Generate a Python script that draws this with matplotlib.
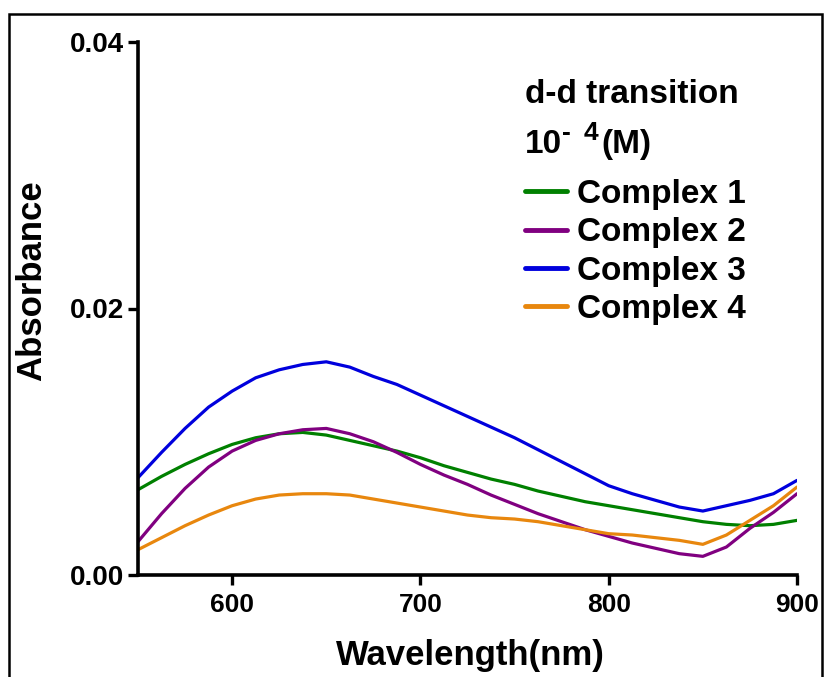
import matplotlib
matplotlib.use("Agg")
import matplotlib.pyplot as plt
from matplotlib.patches import Rectangle

plt.rcParams['font.family'] = ['Liberation Sans', 'DejaVu Sans']
plt.rcParams['font.weight'] = 'bold'

# --- data (absorbance vs wavelength) ---
wavelength = [550, 562.5, 575, 587.5, 600, 612.5, 625, 637.5, 650, 662.5, 675,
              687.5, 700, 712.5, 725, 737.5, 750, 762.5, 775, 787.5, 800,
              812.5, 825, 837.5, 850, 862.5, 875, 887.5, 900]

complex1 = [0.0064, 0.0074, 0.0083, 0.0091, 0.0098, 0.0103, 0.0106, 0.0107,
            0.0105, 0.0101, 0.0097, 0.0093, 0.0088, 0.0082, 0.0077, 0.0072,
            0.0068, 0.0063, 0.0059, 0.0055, 0.0052, 0.0049, 0.0046, 0.0043,
            0.0040, 0.0038, 0.0037, 0.0038, 0.0041]
complex2 = [0.0025, 0.0046, 0.0065, 0.0081, 0.0093, 0.0101, 0.0106, 0.0109,
            0.0110, 0.0106, 0.0100, 0.0092, 0.0083, 0.0075, 0.0068, 0.0060,
            0.0053, 0.0046, 0.0040, 0.0034, 0.0029, 0.0024, 0.0020, 0.0016,
            0.0014, 0.0021, 0.0035, 0.0047, 0.0061]
complex3 = [0.0073, 0.0092, 0.0110, 0.0126, 0.0138, 0.0148, 0.0154, 0.0158,
            0.0160, 0.0156, 0.0149, 0.0143, 0.0135, 0.0127, 0.0119, 0.0111,
            0.0103, 0.0094, 0.0085, 0.0076, 0.0067, 0.0061, 0.0056, 0.0051,
            0.0048, 0.0052, 0.0056, 0.0061, 0.0071]
complex4 = [0.0019, 0.0028, 0.0037, 0.0045, 0.0052, 0.0057, 0.0060, 0.0061,
            0.0061, 0.0060, 0.0057, 0.0054, 0.0051, 0.0048, 0.0045, 0.0043,
            0.0042, 0.0040, 0.0037, 0.0034, 0.0031, 0.0030, 0.0028, 0.0026,
            0.0023, 0.0030, 0.0041, 0.0052, 0.0066]

labels = ['Complex 1', 'Complex 2', 'Complex 3', 'Complex 4']
colors = ['#008000', '#800080', '#0000DD', '#E8870E']
x_ticks = [600, 700, 800, 900]
y_ticks = [0.00, 0.02, 0.04]

W, H = 827, 677
fig = plt.figure(figsize=(W / 100, H / 100), dpi=100)
ax = fig.add_axes([138 / W, 1 - 575 / H, (797 - 138) / W, (575 - 42) / H])

for ys, lab, col in zip([complex1, complex2, complex3, complex4], labels, colors):
    ax.plot(wavelength, ys, color=col, lw=2.3, label=lab,
            solid_capstyle='round', solid_joinstyle='round')

ax.set_xlim(550, 900)
ax.set_ylim(0, 0.04)
ax.set_xticks(x_ticks)
ax.set_yticks(y_ticks)
ax.set_yticklabels([f'{v:.2f}' for v in y_ticks])

for s in ['top', 'right']:
    ax.spines[s].set_visible(False)
for s in ['left', 'bottom']:
    ax.spines[s].set_linewidth(2.6)
ax.tick_params(axis='both', direction='out', length=7, width=2.4)
ax.tick_params(axis='x', pad=6, labelsize=19)
ax.tick_params(axis='y', pad=3, labelsize=20)
for t in ax.get_xticklabels() + ax.get_yticklabels():
    t.set_fontweight('bold')

ax.set_xlabel('Wavelength(nm)', fontsize=25, fontweight='bold')
ax.xaxis.set_label_coords(0.504, -0.12)
ax.set_ylabel('Absorbance', fontsize=25, fontweight='bold')
ax.yaxis.set_label_coords(-0.137, 0.553)

# legend title lines
fig.text(525 / W, 1 - 103 / H, 'd-d transition', fontsize=24, fontweight='bold',
         ha='left', va='baseline')
fig.text(525 / W, 1 - 153 / H, '10', fontsize=24, fontweight='bold', ha='left', va='baseline')
fig.text(562 / W, 1 - 140 / H, '-', fontsize=19, fontweight='bold', ha='left', va='baseline')
fig.text(584 / W, 1 - 140 / H, '4', fontsize=19, fontweight='bold', ha='left', va='baseline')
fig.text(601 / W, 1 - 153 / H, '(M)', fontsize=24, fontweight='bold', ha='left', va='baseline')

leg = ax.legend(loc='upper left', bbox_to_anchor=(525 / W, 1 - 179 / H),
                bbox_transform=fig.transFigure, frameon=False, fontsize=24,
                handlelength=1.25, handletextpad=0.3, labelspacing=0.22,
                borderpad=0, borderaxespad=0)
for line in leg.get_lines():
    line.set_linewidth(3.5)
for t in leg.get_texts():
    t.set_fontweight('bold')

# outer frame around the figure
fig.add_artist(Rectangle((9 / W, -0.1), (822 - 9) / W, 1.1 - 14 / H,
                         transform=fig.transFigure, fill=False, lw=1.8,
                         ec='black', clip_on=False))

fig.savefig('out.png', dpi=100)
